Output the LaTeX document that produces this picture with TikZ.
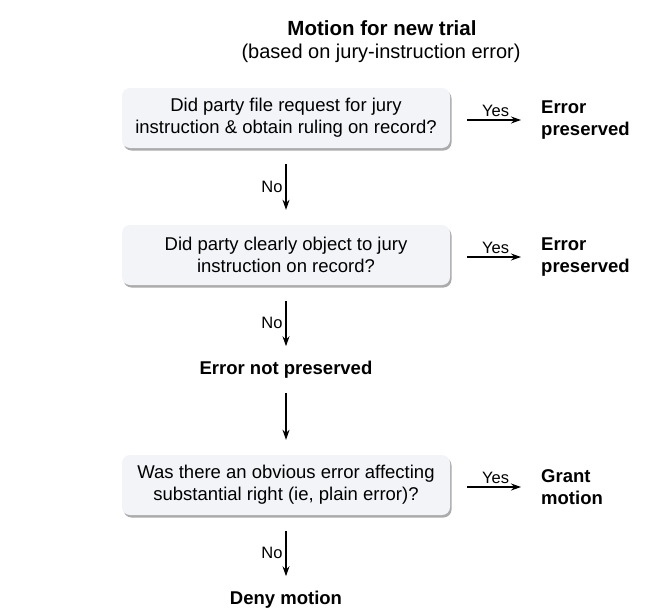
\documentclass[tikz,border=0pt]{standalone}
\usepackage{fontspec}
\setmainfont{Liberation Sans}
\usetikzlibrary{arrows.meta,shadows}
\tikzset{
  qbox/.style={rounded corners=8pt,fill=boxfill,minimum width=328pt,minimum height=60pt,
    align=center,font=\fontsize{18.5}{22}\selectfont,
    drop shadow={shadow xshift=1.5pt,shadow yshift=-2.5pt,opacity=0.55,fill=black!60}},
  res/.style={align=left,font=\bfseries\fontsize{18.5}{22}\selectfont,inner sep=0pt},
  arr/.style={-{Stealth[length=10pt,width=7pt]},line width=1.1pt,shorten <=16pt,shorten >=15pt},
  lab/.style={font=\fontsize{16.5}{18}\selectfont,inner sep=3pt}
}
\definecolor{boxfill}{HTML}{F2F4F8}
\begin{document}
\begin{tikzpicture}[x=1pt,y=-1pt]
\useasboundingbox (0,0) rectangle (661,610);
\node[font=\bfseries\fontsize{20.5}{22}\selectfont] (title) at (382,28) {Motion for new trial};
\node[font=\fontsize{20}{22}\selectfont] (sub) at (381,53) {(based on jury-instruction error)};

\node[qbox] (q1) at (286,118) {Did party file request for jury\\instruction \& obtain ruling on record?};
\node[qbox] (q2) at (286,255) {Did party clearly object to jury\\instruction on record?};
\node[res,anchor=center] (nop) at (286,370) {Error not preserved};
\node[qbox] (q3) at (286,485) {Was there an obvious error affecting\\substantial right (ie, plain error)?};
\node[res,anchor=center] (deny) at (286,600) {Deny motion};

\node[res,anchor=west] (ep1) at (541,120) {Error\\preserved};
\node[res,anchor=west] (ep2) at (541,257) {Error\\preserved};
\node[res,anchor=west] (grant) at (541,487) {Grant\\motion};

\draw[arr]  (q1) -- node[lab,left] {No} (q2);
\draw[arr]  (q2) -- node[lab,left] {No} (nop);
\draw[arr,shorten <=14pt]  (nop) -- (q3);
\draw[arr]  (q3) -- node[lab,left] {No} (deny);

\draw[arr,shorten <=17pt,shorten >=20pt]  (q1.east |- ep1.west) -- node[lab,above] {Yes} (ep1.west);
\draw[arr,shorten <=17pt,shorten >=20pt]  (q2.east |- ep2.west) -- node[lab,above] {Yes} (ep2.west);
\draw[arr,shorten <=17pt,shorten >=20pt]  (q3.east |- grant.west) -- node[lab,above] {Yes} (grant.west);
\end{tikzpicture}
\end{document}
